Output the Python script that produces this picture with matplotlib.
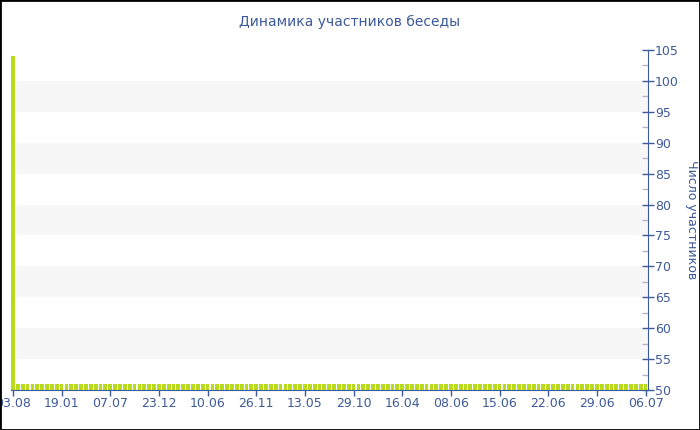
import matplotlib
matplotlib.use("Agg")
import matplotlib.pyplot as plt
from matplotlib.patches import Rectangle
from matplotlib.ticker import MultipleLocator

title = "Динамика участников беседы"
ylabel = "Число участников"
tick_labels = ["03.08", "19.01", "07.07", "23.12", "10.06", "26.11", "13.05",
               "29.10", "16.04", "08.06", "15.06", "22.06", "29.06", "06.07"]
tick_step = 10
values = [104] + [51] * 130

blue = "#3d5a9a"
bar_color = "#b8dc1c"

fig = plt.figure(figsize=(7, 4.3), dpi=100)
ax = fig.add_axes([10.5 / 700, 40 / 430, (648 - 10.5) / 700, 340 / 430])

# alternating background bands
for lo in range(55, 100, 10):
    ax.axhspan(lo, lo + 5, color="#f7f7f7", zorder=0, lw=0)

x = list(range(len(values)))
ax.bar(x, values, width=0.78, color=bar_color, zorder=2, linewidth=0,
       antialiased=False)

ax.set_xlim(-0.5, len(values) - 0.5)
ax.set_ylim(50, 105)

ax.yaxis.tick_right()
ax.yaxis.set_label_position("right")
ax.yaxis.set_major_locator(MultipleLocator(5))
ax.yaxis.set_minor_locator(MultipleLocator(2.5))
ax.tick_params(axis="y", which="major", direction="inout", length=8, width=1,
               color=blue, labelcolor=blue, labelsize=9, pad=1)
ax.tick_params(axis="y", which="minor", direction="in", length=4, width=1,
               color="#b0b8cc")

ticks = [i * tick_step for i in range(len(tick_labels))]
ax.set_xticks(ticks)
ax.set_xticklabels(tick_labels)
ax.tick_params(axis="x", direction="out", length=4, width=1, color=blue,
               labelcolor=blue, labelsize=9, pad=1)

for s in ["top", "left"]:
    ax.spines[s].set_visible(False)
ax.spines["right"].set_color(blue)
ax.spines["bottom"].set_color(blue)
ax.set_facecolor("white")

ax.set_ylabel(ylabel, rotation=-90, color=blue, fontsize=9, labelpad=14)
fig.text(350 / 700, 1 - 22 / 430, title, ha="center", va="center",
         color=blue, fontsize=10)

fig.patches.append(Rectangle((0, 0), 1, 1, transform=fig.transFigure,
                             fill=False, edgecolor="black", linewidth=2))

fig.savefig("out.png", dpi=100)
